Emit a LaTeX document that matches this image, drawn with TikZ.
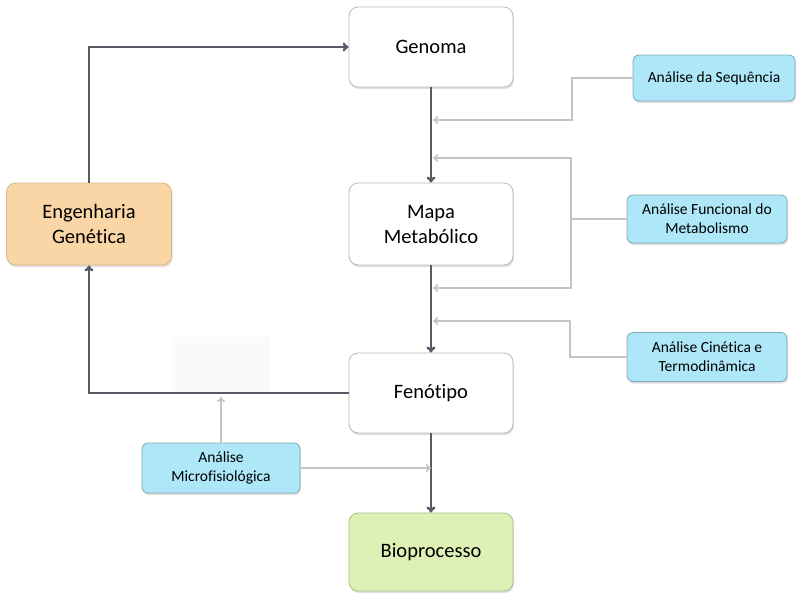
\documentclass[tikz,border=0pt]{standalone}
\usepackage{fontspec}
\setmainfont{Carlito}[Ligatures=NoCommon]
\usetikzlibrary{arrows.meta,shadows}
\definecolor{mainline}{HTML}{565B66}
\definecolor{greyline}{HTML}{C4C4C4}
\definecolor{bluefill}{HTML}{AEE7F8}
\definecolor{blueedge}{HTML}{7FA9B8}
\definecolor{peach}{HTML}{FAD6A6}
\definecolor{peachedge}{HTML}{D9B58A}
\definecolor{greenfill}{HTML}{DDF0B6}
\definecolor{greenedge}{HTML}{A9BE8A}
\tikzset{
  mainbox/.style={draw=gray!55, line width=0.8pt, fill=white, rounded corners=9pt,
    minimum width=164pt, minimum height=80pt, align=center,
    font=\fontsize{20.5}{25}\selectfont,
    drop shadow={opacity=0.25, shadow xshift=1pt, shadow yshift=-2pt}},
  bluebox/.style={draw=blueedge, line width=0.8pt, fill=bluefill, rounded corners=6pt,
    minimum width=160pt, minimum height=48pt, align=center,
    font=\fontsize{15.5}{19}\selectfont,
    drop shadow={opacity=0.25, shadow xshift=1pt, shadow yshift=-2pt}},
  mainarrow/.style={draw=mainline, line width=2.4pt, -{To[length=6pt,width=9pt]}},
  mainlink/.style={draw=mainline, line width=2.4pt},
  greyarrow/.style={draw=greyline, line width=1.8pt, -{To[length=5pt,width=8pt]}},
  greylink/.style={draw=greyline, line width=1.8pt},
}
\begin{document}
\begin{tikzpicture}[x=1pt,y=-1pt]
\useasboundingbox (0,0) rectangle (797,595);
\fill[gray!4] (172,337) rectangle (270,392);
% main nodes
\node[mainbox] (gen) at (431,47) {Genoma};
\node[mainbox, minimum height=82pt] (mapa) at (431,224) {Mapa\\Metabólico};
\node[mainbox] (fen) at (431,393) {Fenótipo};
\node[mainbox, fill=greenfill, draw=greenedge, minimum height=78pt] (bio) at (431,552) {Bioprocesso};
\node[mainbox, fill=peach, draw=peachedge, minimum width=165pt, minimum height=82pt] (eng) at (89,224) {Engenharia\\Genética};
% analysis nodes
\node[bluebox, minimum width=162pt, minimum height=46pt] (seq) at (714,78) {Análise da Sequência};
\node[bluebox] (func) at (707,219) {Análise Funcional do\\Metabolismo};
\node[bluebox, minimum height=49pt] (kin) at (707,357) {Análise Cinética e\\Termodinâmica};
\node[bluebox, minimum width=158pt, minimum height=50pt] (micro) at (221,468) {Análise\\Microfisiológica};
% junction coordinates on the main line
\coordinate (s1) at (433,120);
\coordinate (f1) at (433,158);
\coordinate (f2) at (433,288);
\coordinate (k1) at (433,321);
\coordinate (m2) at (221,397);
\coordinate (fj) at (571,219);
% main flow
\draw[mainarrow] (gen.south) -- (mapa.north);
\draw[mainarrow] (mapa.south) -- (fen.north);
\draw[mainarrow] (fen.south) -- (bio.north);
\draw[mainarrow] (eng.north) |- (gen.west);
\draw[mainarrow] (fen.west) -| (eng.south);
% analysis links
\draw[greyarrow] (seq.west) -| (572,100) |- (s1);
\draw[greylink] (func.west) -- (fj);
\draw[greyarrow] (fj) |- (f1);
\draw[greyarrow] (fj) |- (f2);
\draw[greyarrow] (kin.west) -| (570,340) |- (k1);
\draw[greyarrow] (micro.north) -- (m2);
\draw[greyarrow] (micro.east) -- (micro.east -| fen.south);
\end{tikzpicture}
\end{document}
